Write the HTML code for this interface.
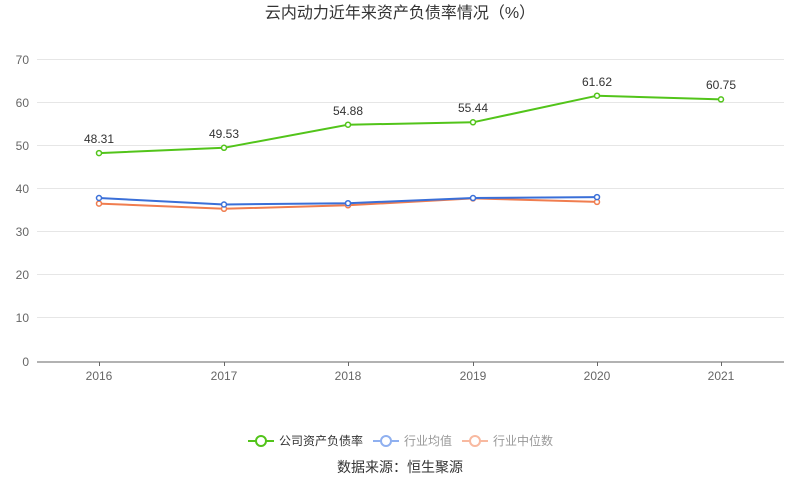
<!DOCTYPE html>
<html><head><meta charset="utf-8"><style>
body{margin:0;background:#fff;}
svg{display:block;font-family:"Liberation Sans","Noto Sans CJK SC",sans-serif;}
</style></head><body>
<svg width="800" height="501" xmlns="http://www.w3.org/2000/svg">
<text x="400" y="18" text-anchor="middle" font-size="16" fill="#333">云内动力近年来资产负债率情况（%）</text>
<g stroke="#e6e6e6" stroke-width="1">
<line x1="37" x2="784" y1="59.5" y2="59.5"/><line x1="37" x2="784" y1="102.5" y2="102.5"/>
<line x1="37" x2="784" y1="145.5" y2="145.5"/><line x1="37" x2="784" y1="188.5" y2="188.5"/>
<line x1="37" x2="784" y1="231.5" y2="231.5"/><line x1="37" x2="784" y1="274.5" y2="274.5"/>
<line x1="37" x2="784" y1="317.5" y2="317.5"/>
</g>
<line x1="37" x2="784" y1="362" y2="362" stroke="#666"/>
<g stroke="#666"><line x1="99.5" x2="99.5" y1="362" y2="366"/><line x1="224.5" x2="224.5" y1="362" y2="366"/><line x1="348.5" x2="348.5" y1="362" y2="366"/><line x1="473.5" x2="473.5" y1="362" y2="366"/><line x1="597.5" x2="597.5" y1="362" y2="366"/><line x1="721.5" x2="721.5" y1="362" y2="366"/></g>
<g font-size="12" fill="#666" text-anchor="end">
<text x="29" y="64">70</text><text x="29" y="107">60</text><text x="29" y="150">50</text><text x="29" y="193">40</text><text x="29" y="236">30</text><text x="29" y="279">20</text><text x="29" y="322">10</text><text x="29" y="366">0</text>
</g>
<g font-size="12" fill="#666" text-anchor="middle">
<text x="99" y="380">2016</text><text x="224" y="380">2017</text><text x="348" y="380">2018</text><text x="473" y="380">2019</text><text x="597" y="380">2020</text><text x="721" y="380">2021</text>
</g>
<polyline fill="none" stroke="#f07d4f" stroke-width="2" points="99,203.6 224,208.8 348,205.3 473,198.4 597,201.9"/>
<g fill="#fff" stroke="#f07d4f" stroke-width="1.5"><circle cx="99" cy="203.6" r="2.5"/><circle cx="224" cy="208.8" r="2.5"/><circle cx="348" cy="205.3" r="2.5"/><circle cx="473" cy="198.4" r="2.5"/><circle cx="597" cy="201.9" r="2.5"/></g>
<polyline fill="none" stroke="#3a6fd8" stroke-width="2" points="99,198 224,204.5 348,203.2 473,198 597,197.1"/>
<g fill="#fff" stroke="#3a6fd8" stroke-width="1.5"><circle cx="99" cy="198" r="2.5"/><circle cx="224" cy="204.5" r="2.5"/><circle cx="348" cy="203.2" r="2.5"/><circle cx="473" cy="198" r="2.5"/><circle cx="597" cy="197.1" r="2.5"/></g>
<polyline fill="none" stroke="#52c41a" stroke-width="2" points="99,153.1 224,147.8 348,124.7 473,122.3 597,95.7 721,99.4"/>
<g fill="#fff" stroke="#52c41a" stroke-width="1.5"><circle cx="99" cy="153.1" r="2.5"/><circle cx="224" cy="147.8" r="2.5"/><circle cx="348" cy="124.7" r="2.5"/><circle cx="473" cy="122.3" r="2.5"/><circle cx="597" cy="95.7" r="2.5"/><circle cx="721" cy="99.4" r="2.5"/></g>
<g font-size="12" fill="#333" text-anchor="middle">
<text x="99" y="143">48.31</text><text x="224" y="138">49.53</text><text x="348" y="115">54.88</text><text x="473" y="112">55.44</text><text x="597" y="86">61.62</text><text x="721" y="89">60.75</text>
</g>
<g font-size="12">
<line x1="248" x2="274" y1="441" y2="441" stroke="#52c41a" stroke-width="2"/><circle cx="261" cy="441" r="5" fill="#fff" stroke="#52c41a" stroke-width="2"/>
<text x="279" y="445" fill="#333">公司资产负债率</text>
<line x1="373" x2="399" y1="441" y2="441" stroke="#8fb0f0" stroke-width="2"/><circle cx="386" cy="441" r="5" fill="#fff" stroke="#8fb0f0" stroke-width="2"/>
<text x="404" y="445" fill="#999">行业均值</text>
<line x1="462" x2="488" y1="441" y2="441" stroke="#f8b9a0" stroke-width="2"/><circle cx="475" cy="441" r="5" fill="#fff" stroke="#f8b9a0" stroke-width="2"/>
<text x="493" y="445" fill="#999">行业中位数</text>
</g>
<text x="400" y="472" text-anchor="middle" font-size="14" fill="#333">数据来源：恒生聚源</text>
</svg>
</body></html>
